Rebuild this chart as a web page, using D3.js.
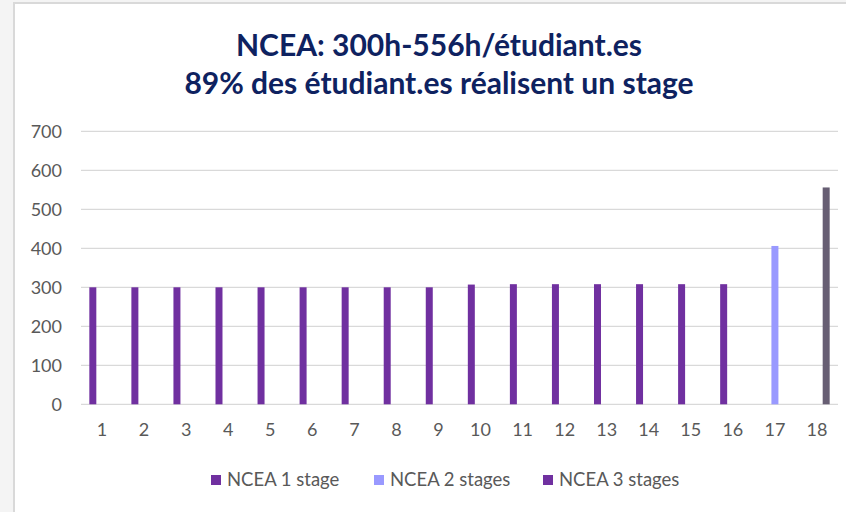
<!DOCTYPE html>
<html>
<head>
<meta charset="utf-8">
<script src="https://cdn.jsdelivr.net/npm/d3@7/dist/d3.min.js"></script>
<style>
  html, body { margin: 0; padding: 0; background: #f4f4f4; }
  svg { display: block; }
  text { font-family: Lato, "Liberation Sans", sans-serif; }
</style>
</head>
<body>
<svg id="chart" width="846" height="512"></svg>
<script>
// data
var categories = ["1","2","3","4","5","6","7","8","9","10","11","12","13","14","15","16","17","18"];
var seriesNames = ["NCEA 1 stage", "NCEA 2 stages", "NCEA 3 stages"];
var ncea1 = [300,300,300,300,300,300,300,300,300,307,308,308,308,308,308,308,null,null];
var ncea2 = [null,null,null,null,null,null,null,null,null,null,null,null,null,null,null,null,406,null];
var ncea3 = [null,null,null,null,null,null,null,null,null,null,null,null,null,null,null,null,null,556];
var yTicks = [0,100,200,300,400,500,600,700];
var titleLines = ["NCEA: 300h-556h/étudiant.es", "89% des étudiant.es réalisent un stage"];

var colors = ["#7030a0", "#9999ff", "#7030a0"];
var highlightColor = "#675e73"; // last bar is drawn darker than its legend swatch

var svg = d3.select("#chart");

// card background with the thin frame on top/left
svg.append("rect").attr("x", 0).attr("y", 0).attr("width", 846).attr("height", 512).attr("fill", "#f4f4f4");
svg.append("rect").attr("x", 14).attr("y", 3).attr("width", 840).attr("height", 520)
  .attr("fill", "#fff").attr("stroke", "#d9d9d9").attr("stroke-width", 2);

var plotLeft = 81, plotRight = 838, plotTop = 131.3, plotBottom = 404.3;

var x0 = d3.scaleBand().domain(categories).range([plotLeft, plotRight]).paddingInner(0.396).paddingOuter(0.198);
var x1 = d3.scaleBand().domain(seriesNames).range([0, x0.bandwidth()]).paddingInner(0.24).paddingOuter(0);
var y = d3.scaleLinear().domain([0, 700]).range([plotBottom, plotTop]);

// gridlines
svg.append("g").selectAll("line").data(yTicks).enter().append("line")
  .attr("x1", plotLeft).attr("x2", plotRight)
  .attr("y1", d => y(d)).attr("y2", d => y(d))
  .attr("stroke", "#d9d9d9").attr("stroke-width", 1.3);

// y axis labels
var yAxis = d3.axisLeft(y).tickValues(yTicks).tickSize(0).tickPadding(0);
var gy = svg.append("g").attr("transform", "translate(62,0)").call(yAxis);
gy.select(".domain").remove();
gy.selectAll("text").attr("fill", "#595959").style("font-size", "18px").style("font-family", "Lato, sans-serif");

// x axis labels
var xAxis = d3.axisBottom(x0).tickSize(0).tickPadding(0);
var gx = svg.append("g").attr("transform", "translate(0,423)").call(xAxis);
gx.select(".domain").remove();
gx.selectAll("text").attr("fill", "#595959").style("font-size", "18px").style("font-family", "Lato, sans-serif");

// bars
var allSeries = [ncea1, ncea2, ncea3];
var rows = [];
categories.forEach(function (c, i) {
  allSeries.forEach(function (s, k) {
    if (s[i] != null) rows.push({cat: c, series: seriesNames[k], k: k, value: s[i], last: i == categories.length - 1});
  });
});

svg.append("g").selectAll("rect").data(rows).enter().append("rect")
  .attr("x", d => x0(d.cat) + x1(d.series))
  .attr("width", x1.bandwidth())
  .attr("y", d => y(d.value))
  .attr("height", d => y(0) - y(d.value))
  .attr("fill", d => d.last ? highlightColor : colors[d.k]);

// title
svg.append("g").selectAll("text").data(titleLines).enter().append("text")
  .attr("x", 439).attr("y", (d, i) => 56 + i * 38)
  .attr("text-anchor", "middle")
  .attr("fill", "#0e2260")
  .style("font-size", "30px").style("font-weight", "bold")
  .text(d => d);

// legend
var legendX = [211, 374, 543];
var lg = svg.append("g").selectAll("g").data(seriesNames).enter().append("g")
  .attr("transform", (d, i) => "translate(" + legendX[i] + ",475)");
lg.append("rect").attr("width", 10).attr("height", 10).attr("fill", (d, i) => colors[i]);
lg.append("text").attr("x", 16).attr("y", 11)
  .attr("fill", "#595959").style("font-size", "18.5px")
  .text(d => d);
</script>
</body>
</html>
